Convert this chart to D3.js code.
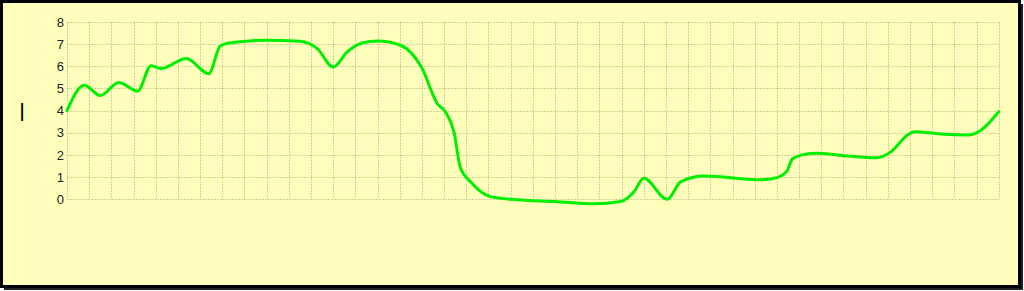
<!DOCTYPE html>
<html>
<head>
<meta charset="utf-8">
<script src="https://cdn.jsdelivr.net/npm/d3@7"></script>
<style>
  html, body { margin: 0; padding: 0; background: #fff; }
  svg { display: block; }
</style>
</head>
<body>
<svg id="chart" width="1024" height="291"></svg>
<script>
// positions along the x grid (42 intervals) and values
const xPos = [0, 0.78, 1.5, 2.33, 3.18, 3.79, 4.24, 5.38, 6.39, 6.91, 7.3, 9.0, 10.5,
  11.28, 12.0, 12.63, 13.3, 14.0, 15.03, 16.01, 16.69, 17.06, 17.44, 17.74, 18.19,
  19.09, 20.3, 22, 23.75, 24.96, 25.56, 26.0, 27.06, 27.66, 28.71, 31.3, 32.0, 32.45,
  32.7, 33.22, 33.8, 35.0, 36.5, 37.14, 37.89, 38.19, 39.54, 40.6, 41.2, 42.0];
const values = [4.0, 5.15, 4.68, 5.27, 4.88, 6.03, 5.9, 6.35, 5.67, 6.92, 7.05, 7.18, 7.13,
  6.8, 5.97, 6.65, 7.05, 7.14, 6.95, 5.9, 4.32, 3.95, 3.05, 1.4, 0.79,
  0.12, -0.02, -0.1, -0.2, -0.1, 0.34, 0.95, 0.0, 0.79, 1.05, 0.88, 0.98, 1.27,
  1.82, 2.02, 2.08, 1.97, 1.87, 2.14, 2.9, 3.05, 2.93, 2.9, 3.12, 3.95];
const yTicks = [0, 1, 2, 3, 4, 5, 6, 7, 8];
const xGridCount = 42;

const width = 1024, height = 291;
const margin = { top: 22, left: 67, right: 25, bottom: 92 };

const svg = d3.select("#chart");

// frame with shadow
svg.append("rect")
  .attr("x", 4).attr("y", 4)
  .attr("width", width - 5).attr("height", height - 5)
  .attr("fill", "#222");
svg.append("rect")
  .attr("x", 1.5).attr("y", 1.5)
  .attr("width", width - 6).attr("height", height - 6)
  .attr("fill", "#ffffbb")
  .attr("stroke", "#000")
  .attr("stroke-width", 3);

const x = d3.scaleLinear()
  .domain([0, xGridCount])
  .range([margin.left, 998.7]);

const y = d3.scaleLinear()
  .domain([0, 8])
  .range([199.3, margin.top]);

// grid
const gridColour = "#8c8870";
const grid = svg.append("g").attr("class", "grid");
grid.selectAll(".vgrid")
  .data(d3.range(0, xGridCount + 1))
  .enter().append("line")
  .attr("class", "vgrid")
  .attr("x1", d => Math.round(x(d)) + 0.5)
  .attr("x2", d => Math.round(x(d)) + 0.5)
  .attr("y1", y(8)).attr("y2", y(0))
  .attr("stroke", gridColour)
  .attr("stroke-opacity", 0.4)
  .attr("stroke-dasharray", "2,1");
grid.selectAll(".hgrid")
  .data(yTicks)
  .enter().append("line")
  .attr("class", "hgrid")
  .attr("x1", x(0)).attr("x2", x(xGridCount))
  .attr("y1", d => Math.round(y(d)) + 0.5)
  .attr("y2", d => Math.round(y(d)) + 0.5)
  .attr("stroke", gridColour)
  .attr("stroke-opacity", 0.4)
  .attr("stroke-dasharray", "2,1");

// y axis labels
svg.append("g")
  .selectAll("text")
  .data(yTicks)
  .enter().append("text")
  .attr("x", 64)
  .attr("y", d => y(d))
  .attr("dy", "0.36em")
  .attr("text-anchor", "end")
  .attr("font-family", "Liberation Sans, Arial, sans-serif")
  .attr("font-size", 13)
  .attr("fill", "#222")
  .text(d => d);

// y axis title (appears as a short vertical bar)
svg.append("text")
  .attr("transform", "translate(27,112) rotate(-90)")
  .attr("text-anchor", "middle")
  .attr("font-family", "Liberation Sans, Arial, sans-serif")
  .attr("font-size", 18)
  .attr("font-weight", "bold")
  .attr("fill", "#000")
  .text("—");

// curve
const pts = xPos.map((d, i) => [d, values[i]]);
const line = d3.line()
  .x(d => x(d[0]))
  .y(d => y(d[1]))
  .curve(d3.curveMonotoneX);

svg.append("path")
  .datum(pts)
  .attr("d", line)
  .attr("fill", "none")
  .attr("stroke", "#00ee00")
  .attr("stroke-width", 3)
  .attr("stroke-linejoin", "round")
  .attr("stroke-linecap", "round");
</script>
</body>
</html>
